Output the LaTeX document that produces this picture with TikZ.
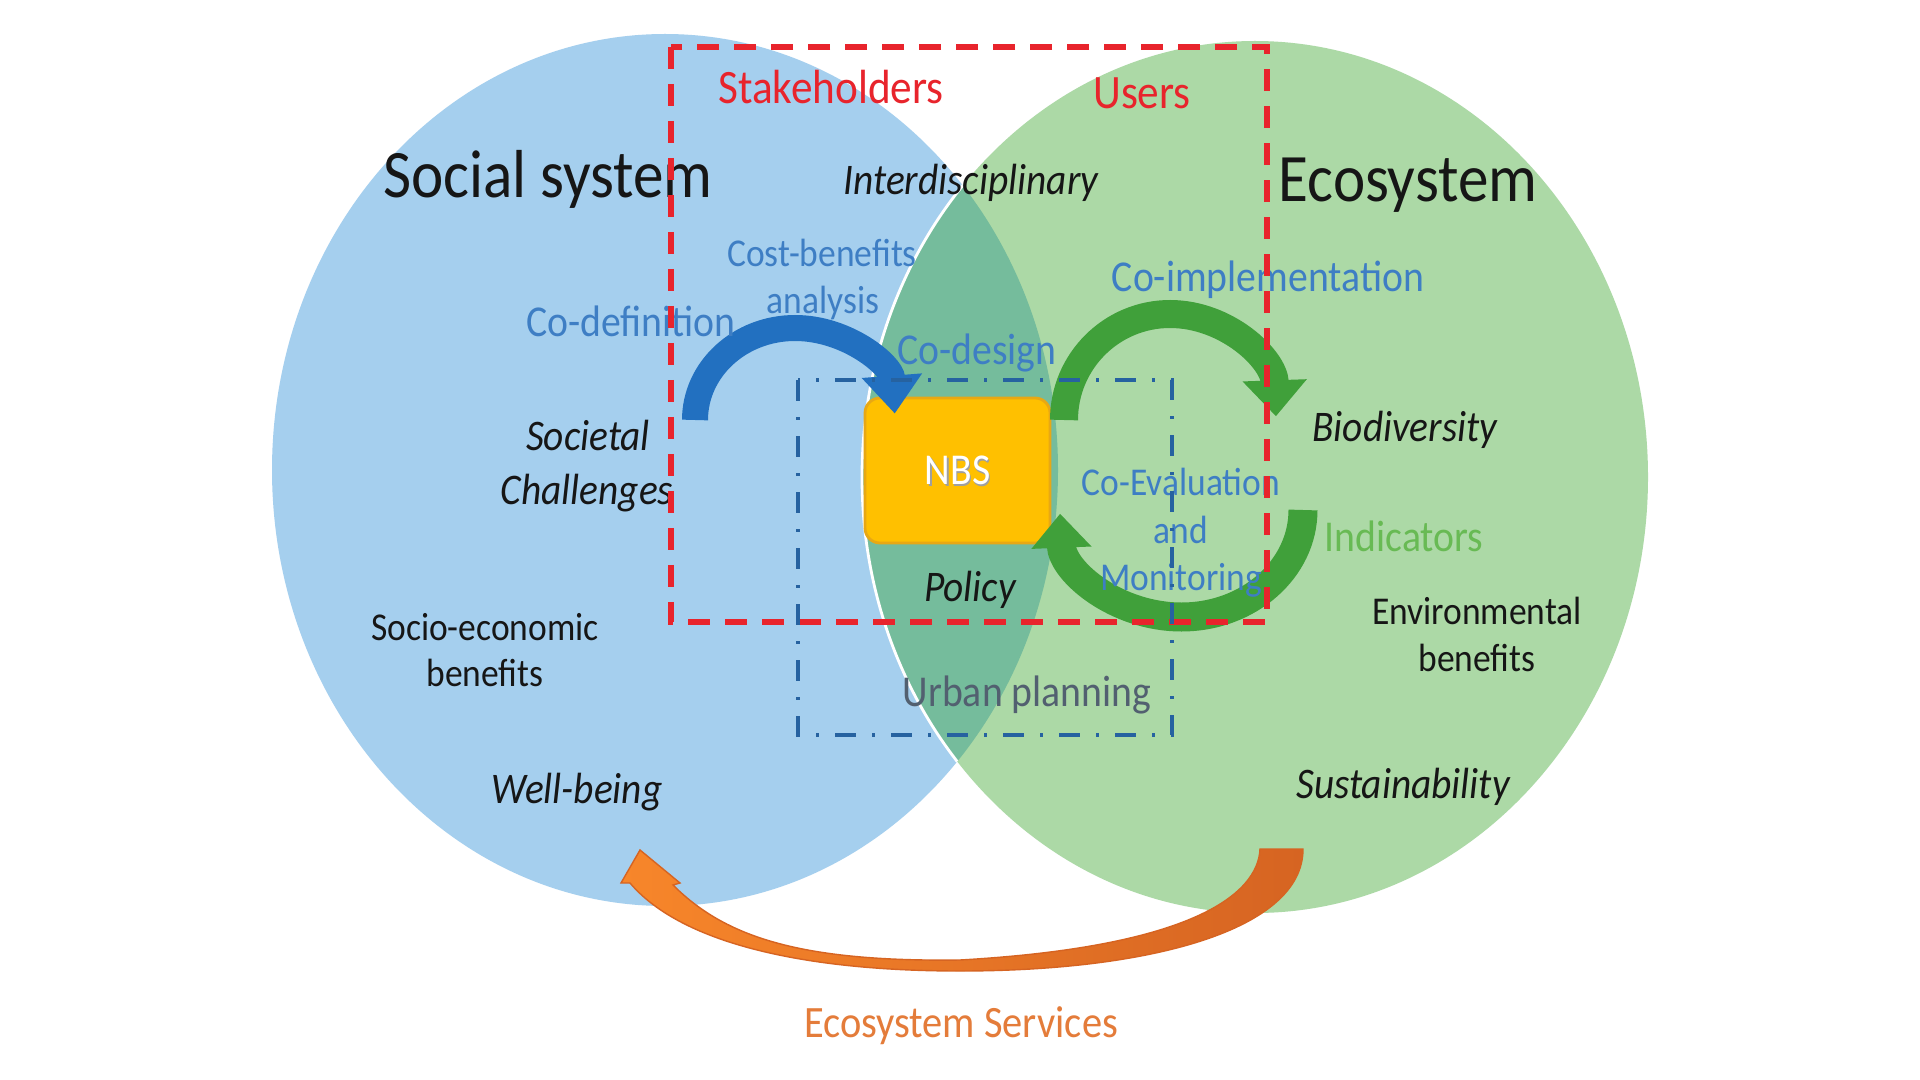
\documentclass[tikz,border=0pt]{standalone}
\usepackage{fontspec}
\setmainfont{Carlito}
\usepackage{tikz}
\usetikzlibrary{arrows.meta}
\definecolor{socialblue}{RGB}{165,207,238}
\definecolor{ecogreen}{RGB}{172,217,166}
\definecolor{overlap}{RGB}{117,188,156}
\definecolor{nbsyellow}{RGB}{255,192,0}
\definecolor{nbsedge}{RGB}{232,168,20}
\definecolor{actblue}{RGB}{62,126,196}
\definecolor{actred}{RGB}{232,36,44}
\definecolor{loopblue}{RGB}{34,112,192}
\definecolor{loopgreen}{RGB}{64,160,58}
\definecolor{indgreen}{RGB}{104,186,84}
\definecolor{planslate}{RGB}{82,96,112}
\definecolor{svcorange}{RGB}{228,124,58}
\definecolor{arrowlight}{RGB}{247,134,42}
\definecolor{arrowdark}{RGB}{214,100,34}
\definecolor{ink}{RGB}{22,22,22}
\definecolor{dashblue}{RGB}{38,98,160}

\tikzset{
  lbl/.style={inner sep=0pt, anchor=mid, yscale=1.11},
  systemname/.style={lbl, text=ink, font=\fontsize{17.4}{20}\selectfont},
  actor/.style={lbl, text=actred, font=\fontsize{12.3}{14}\selectfont},
  term/.style={lbl, text=ink, font=\fontsize{11.2}{13}\selectfont\itshape},
  plain/.style={lbl, text=ink, font=\fontsize{10.1}{12}\selectfont},
  action/.style={lbl, text=actblue, font=\fontsize{11.3}{13}\selectfont},
  minoraction/.style={lbl, text=actblue, font=\fontsize{10.1}{12}\selectfont},
  indicator/.style={lbl, text=indgreen, font=\fontsize{11.3}{13}\selectfont},
  planning/.style={lbl, text=planslate, font=\fontsize{11.3}{13}\selectfont},
  service/.style={lbl, text=svcorange, font=\fontsize{11.5}{13}\selectfont},
  nbsbox/.style={draw=nbsedge, fill=nbsyellow, line width=0.8pt, rounded corners=0.15cm,
    minimum width=1.85cm, minimum height=1.45cm, inner sep=0pt},
  nbslabel/.style={inner sep=0pt, anchor=center, yscale=1.11, text=white, font=\fontsize{11.3}{13}\selectfont},
  actorframe/.style={actred, line width=1.6pt, dash pattern=on 0.22cm off 0.15cm},
  planframe/.style={dashblue, line width=1.4pt, dash pattern=on 0.21cm off 0.16cm on 0.03cm off 0.16cm},
  defarrow/.style={loopblue, line width=0.26cm, -{Triangle[width=0.58cm, length=0.38cm]}},
  implarrow/.style={loopgreen, line width=0.28cm, -{Triangle[width=0.62cm, length=0.36cm]}},
  evalarrow/.style={loopgreen, line width=0.29cm, -{Triangle[width=0.58cm, length=0.34cm]}},
}

\begin{document}
\begin{tikzpicture}
\fill[white] (0,0) rectangle (19.2,-10.8);
\useasboundingbox (0,0) rectangle (19.2,-10.8);

% two systems and their overlap
\fill[socialblue] (6.65,-4.70) ellipse [x radius=3.93, y radius=4.36];
\fill[ecogreen] (12.55,-4.77) ellipse [x radius=3.93, y radius=4.36];
\begin{scope}
  \clip (6.65,-4.70) ellipse [x radius=3.93, y radius=4.36];
  \fill[overlap] (12.55,-4.77) ellipse [x radius=3.93, y radius=4.36];
  \draw[white, line width=0.8pt] (12.55,-4.77) ellipse [x radius=3.93, y radius=4.36];
\end{scope}

% NBS
\node[nbsbox] (nbs) at (9.575,-4.705) {};
\node[nbslabel, text=gray!75] (nbsshadow) at ([shift={(0.015,-0.02)}]nbs.center) {NBS};
\node[nbslabel] (nbstext) at (nbs.center) {NBS};

% loops round NBS
\coordinate (defstart) at (6.95,-4.20);
\coordinate (implstart) at (10.64,-4.20);
\coordinate (evalstart) at (13.03,-5.10);
\draw[defarrow] (defstart) arc[start angle=180, end angle=4, x radius=1.00, y radius=0.92];
\draw[implarrow] (implstart) arc[start angle=180, end angle=2, radius=1.06];
\draw[evalarrow] (evalstart) arc[start angle=0, end angle=-178, x radius=1.215, y radius=1.07];

% ecosystem services arrow
\path[draw=arrowdark, line width=0.4pt, left color=arrowlight, right color=arrowdark]
  (12.60,-8.49) .. controls (12.58,-8.95) and (11.90,-9.47) .. (9.60,-9.60)
  .. controls (8.00,-9.62) and (7.25,-9.37) .. (6.73,-8.85)
  -- (6.80,-8.83) -- (6.40,-8.50) -- (6.21,-8.83) -- (6.30,-8.83)
  .. controls (6.80,-9.42) and (8.00,-9.71) .. (9.60,-9.71)
  .. controls (11.50,-9.71) and (13.03,-9.30) .. (13.03,-8.49) -- cycle;

% labels
\node[systemname] (social) at (5.48,-1.88) {Social system};
\node[systemname] (eco) at (14.08,-1.92) {Ecosystem};
\node[actor] (stake) at (8.31,-0.94) {Stakeholders};
\node[actor] (users) at (11.42,-0.99) {Users};
\node[term] (interdis) at (9.71,-1.85) {Interdisciplinary};
\node[minoraction] (cost) at (8.22,-2.57) {Cost-benefits};
\node[minoraction] (analysis) at (8.23,-3.04) {analysis};
\node[action] (codef) at (6.31,-3.27) {Co-definition};
\node[action] (codesign) at (9.77,-3.55) {Co-design};
\node[action] (coimpl) at (12.68,-2.82) {Co-implementation};
\node[term] (societal) at (5.88,-4.41) {Societal};
\node[term] (challenges) at (5.87,-4.95) {Challenges};
\node[plain] (socioeco) at (4.85,-6.31) {Socio-economic};
\node[plain] (sociobenefits) at (4.85,-6.77) {benefits};
\node[term] (wellbeing) at (5.77,-7.94) {Well-being};
\node[term] (policy) at (9.70,-5.92) {Policy};
\node[term] (biodiv) at (14.05,-4.32) {Biodiversity};
\node[minoraction] (coeval) at (11.81,-4.86) {Co-Evaluation};
\node[minoraction] (evaland) at (11.81,-5.34) {and};
\node[minoraction] (monitoring) at (11.81,-5.81) {Monitoring};
\node[indicator] (indic) at (14.04,-5.42) {Indicators};
\node[plain] (envir) at (14.77,-6.15) {Environmental};
\node[plain] (envbenefits) at (14.77,-6.62) {benefits};
\node[term] (sustain) at (14.03,-7.89) {Sustainability};
\node[planning] (urban) at (10.27,-6.97) {Urban planning};
\node[service] (ecoserv) at (9.61,-10.28) {Ecosystem Services};

% frames
\draw[actorframe] (6.71,-0.47) rectangle (12.67,-6.22);
\draw[planframe] (7.98,-3.80) rectangle (11.72,-7.35);
\end{tikzpicture}
\end{document}
